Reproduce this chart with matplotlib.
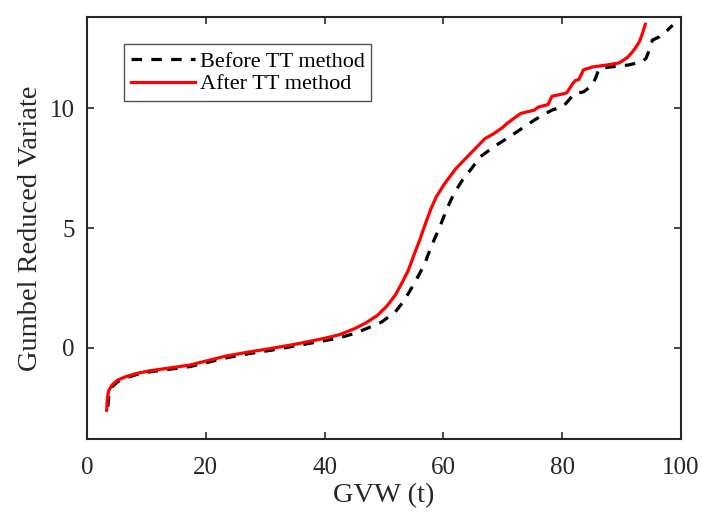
import matplotlib
matplotlib.use("Agg")
import matplotlib.pyplot as plt

# After TT method (red)
after_x = [3.3, 3.4, 3.6, 4.2, 5.1, 6.5, 8.1, 10.4, 13.5, 17.2, 20.0, 23.2, 27.0, 30.8, 35.0, 39.8, 42.5,
           45.1, 47.0, 48.9, 50.5, 51.9, 53.0, 54.1, 55.0, 56.0, 57.0, 57.9, 58.8, 60.2, 62.0, 64.0,
           65.5, 67.0, 68.5, 70.0, 70.7, 72.0, 73.0, 75.3, 76.0, 76.8, 77.6, 78.3, 80.2, 80.8,
           81.7, 82.2, 82.8, 83.6, 85.1, 87.5, 89.6, 90.3, 91.1, 92.0, 93.0, 93.5, 94.0]
after_y = [-2.6, -2.2, -1.8, -1.55, -1.35, -1.2, -1.08, -0.96, -0.85, -0.72, -0.55, -0.35, -0.18, -0.03,
           0.15, 0.39, 0.55, 0.81, 1.05, 1.36, 1.75, 2.2, 2.7, 3.24, 3.85, 4.49, 5.2, 5.8, 6.3, 6.85,
           7.45, 7.97, 8.35, 8.73, 8.94, 9.2, 9.36, 9.6, 9.78, 9.92, 10.05, 10.1, 10.15, 10.5, 10.6,
           10.65, 11.0, 11.15, 11.2, 11.6, 11.72, 11.8, 11.89, 12.0, 12.14, 12.4, 12.77, 13.1, 13.5]

# Before TT method (black dashed)
before_x = [3.5, 3.6, 3.8, 4.3, 5.2, 6.6, 8.2, 10.5, 13.6, 17.3, 20.0, 23.3, 27.0, 30.9, 35.0, 39.9, 42.5,
            45.0, 47.5, 49.6, 51.9, 53.0, 54.1, 55.0, 56.0, 57.0, 57.9, 59.4, 60.5, 61.8, 63.2,
            64.8, 66.2, 68.5, 71.5, 73.5, 75.3, 77.0, 78.3, 80.2, 81.0, 82.0, 83.6, 85.1, 85.7,
            86.2, 88.1, 91.1, 93.4, 94.1, 94.8, 95.2, 96.4, 97.5, 98.6]
before_y = [-2.45, -2.15, -1.85, -1.6, -1.4, -1.25, -1.12, -1.0, -0.9, -0.78, -0.62, -0.42, -0.25,
            -0.1, 0.08, 0.3, 0.42, 0.6, 0.85, 1.08, 1.5, 1.85, 2.27, 2.65, 3.1, 3.6, 4.2, 5.05, 5.75,
            6.45, 7.0, 7.5, 7.97, 8.39, 8.87, 9.2, 9.5, 9.75, 9.92, 10.08, 10.3, 10.6, 10.68, 10.96,
            11.3, 11.65, 11.72, 11.8, 11.93, 12.07, 12.5, 12.84, 12.98, 13.2, 13.46]

xticks = [0, 20, 40, 60, 80, 100]
yticks = [0, 5, 10]

plt.rcParams['font.family'] = ['Liberation Serif', 'DejaVu Serif']

fig = plt.figure(figsize=(7.02, 5.18), dpi=100)
ax = fig.add_axes([0.124, 0.1525, 0.846, 0.8145])

ax.plot(before_x, before_y, color='black', linestyle=(0, (3.3, 2.9)), linewidth=2.3, label='Before TT method')
ax.plot(after_x, after_y, color='#ff0000', linestyle='-', linewidth=2.3, label='After TT method')

ax.set_xlim(0, 100)
ax.set_ylim(-3.8, 13.8)
ax.set_xticks(xticks)
ax.set_yticks(yticks)
ax.tick_params(direction='in', length=5, width=1.2, top=True, right=True, labelsize=18,
               colors='#262626')
ax.tick_params(axis='x', pad=13)
ax.tick_params(axis='y', pad=9)
for s in ax.spines.values():
    s.set_linewidth(1.5)
    s.set_color('#262626')

ax.set_xlabel('GVW (t)', fontsize=20.5, color='#262626', labelpad=3)
ax.set_ylabel('Gumbel Reduced Variate', fontsize=20.5, color='#262626', labelpad=5)

leg = ax.legend(loc='upper left', bbox_to_anchor=(0.0626, 0.9355), fontsize=16, frameon=True,
                fancybox=False, edgecolor='#262626', handlelength=2.9, handletextpad=0.2,
                borderpad=0.3, labelspacing=0.1, borderaxespad=0)
leg.get_frame().set_linewidth(1.0)

fig.savefig('out.png', dpi=100)
